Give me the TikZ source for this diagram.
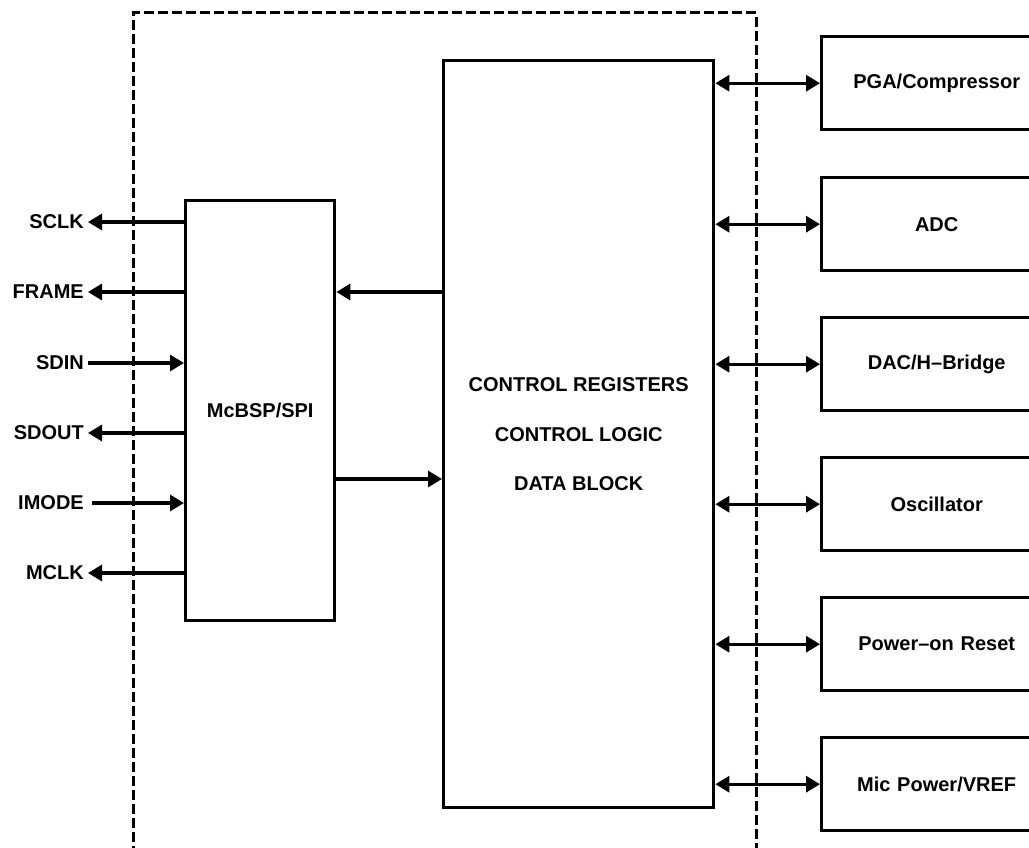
\documentclass[tikz,border=0pt]{standalone}
\usepackage{fontspec}
\setmainfont{Liberation Sans}
\usetikzlibrary{arrows.meta,calc}
\begin{document}
\begin{tikzpicture}[x=1pt,y=-1pt,
  font=\bfseries\fontsize{20}{24}\selectfont,
  blk/.style={draw,line width=3.4pt,inner sep=0pt},
  sig/.style={line width=3.2pt},
  tip/.style={-{Triangle[length=14pt,width=16pt]}},
  tips/.style={{Triangle[length=14pt,width=16pt]}-{Triangle[length=14pt,width=16pt]}},
  lbl/.style={anchor=east,inner sep=0pt},
  dev/.style={blk,minimum width=230pt,minimum height=93pt,anchor=north west,text width=230pt,align=center}]
\useasboundingbox (0,0) rectangle (1029,848);
\clip (0,0) rectangle (1029,848);
\fill[white] (0,0) rectangle (1029,848);
% dashed boundary
\draw[line width=3pt,dash pattern=on 10pt off 4pt] (133,870) -- (133,13) -- (756,13) -- (756,870);
% main blocks
\node[blk,minimum width=149pt,minimum height=420pt,anchor=north west] (mcbsp) at (184,199) {McBSP/SPI};
\node[blk,minimum width=270pt,minimum height=747pt,anchor=north west,align=center,font=\bfseries\fontsize{20}{49.5}\selectfont] (ctrl) at (442,59) {CONTROL REGISTERS\\CONTROL LOGIC\\DATA BLOCK};
% right devices
\node[dev] (pga) at (820,35) {PGA/Compressor};
\node[dev] (adc) at (820,176) {ADC};
\node[dev] (dac) at (820,316) {DAC/H--Bridge};
\node[dev] (osc) at (820,456) {Oscillator};
\node[dev] (por) at (820,596) {Power--on Reset};
\node[dev] (mic) at (820,736) {Mic Power/VREF};
\foreach \d in {pga,adc,dac,osc,por,mic}
  \draw[sig,tips] (ctrl.east |- \d.west) -- (\d.west);
% left signals
\node[lbl] (sclk) at (84,222) {SCLK};
\node[lbl] (frame) at (84,292) {FRAME};
\node[lbl] (sdin) at (84,363) {SDIN};
\node[lbl] (sdout) at (84,433) {SDOUT};
\node[lbl] (imode) at (84,503) {IMODE};
\node[lbl] (mclk) at (84,573) {MCLK};
\foreach \s in {sclk,frame,sdout,mclk}
  \draw[sig,tip] (mcbsp.west |- \s.east) -- ([xshift=4pt]\s.east);
\draw[sig,tip] ([xshift=4pt]sdin.east) -- (mcbsp.west |- sdin.east);
\draw[sig,tip] ([xshift=8pt]imode.east) -- (mcbsp.west |- imode.east);
% internal
\coordinate (up) at (0,292);
\coordinate (dn) at (0,479);
\draw[sig,tip] (ctrl.west |- up) -- (mcbsp.east |- up);
\draw[sig,tip] (mcbsp.east |- dn) -- (ctrl.west |- dn);
\end{tikzpicture}
\end{document}
